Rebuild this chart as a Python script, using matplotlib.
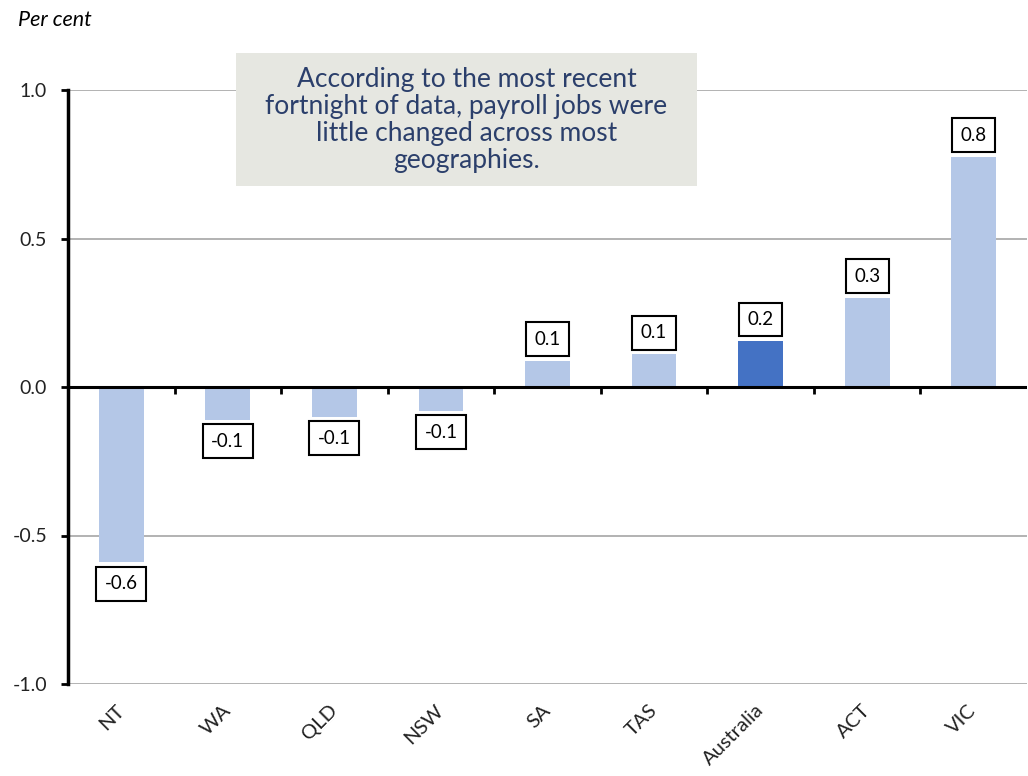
import matplotlib
matplotlib.use("Agg")
import matplotlib.pyplot as plt
from matplotlib.patches import Rectangle

regions = ["NT", "WA", "QLD", "NSW", "SA", "TAS", "Australia", "ACT", "VIC"]
change = [-0.59, -0.11, -0.10, -0.08, 0.088, 0.11, 0.155, 0.30, 0.775]
highlight = "Australia"
y_ticks = [-1.0, -0.5, 0.0, 0.5, 1.0]
note = ("According to the most recent\n"
        "fortnight of data, payroll jobs were\n"
        "little changed across most\n"
        "geographies.")

LIGHT = "#B4C7E7"
DARK = "#4472C4"
GRID = "#A6A6A6"

plt.rcParams["font.family"] = ["Lato", "DejaVu Sans"]

W, H = 1028, 776
fig = plt.figure(figsize=(W / 100, H / 100), dpi=100)
ax = fig.add_axes([68 / W, 1 - 684 / H, (1027 - 68) / W, (684 - 90) / H])

x = list(range(len(regions)))
colors = [DARK if r == highlight else LIGHT for r in regions]
ax.bar(x, change, width=0.42, color=colors, zorder=3)

# value boxes above positive bars, below negative ones
for xi, v in zip(x, change):
    up = v >= 0
    ax.annotate(f"{v:.1f}", (xi, v), xytext=(0, 13 if up else -13),
                textcoords="offset pixels", ha="center",
                va="bottom" if up else "top", fontsize=13.5, zorder=5,
                bbox=dict(boxstyle="square,pad=0.45", fc="white",
                          ec="black", lw=1.5))

ax.set_xlim(-0.5, len(regions) - 0.5)
ax.set_ylim(-1.0, 1.0)
ax.set_yticks(y_ticks)
ax.set_yticklabels([f"{t:.1f}" for t in y_ticks], fontsize=14, color="#222222")
ax.yaxis.grid(True, color=GRID, lw=1.2, zorder=0)
ax.tick_params(axis="y", direction="out", length=5, width=2, pad=10)

ax.set_xticks(x)
ax.set_xticklabels(regions, rotation=45, ha="right", va="center",
                   rotation_mode="anchor", fontsize=14.5, color="#222222")
ax.tick_params(axis="x", length=0, pad=17)

for side in ["top", "right", "bottom"]:
    ax.spines[side].set_visible(False)
ax.spines["left"].set_linewidth(2.5)
ax.set_axisbelow(True)

# zero line with category dividers
ax.axhline(0, color="black", lw=2.2, zorder=4)
ax.vlines([i + 0.5 for i in x[:-1]], -0.025, 0, color="black", lw=2, zorder=4)

fig.text(18 / W, 1 - 20 / H, "Per cent", fontsize=15.5, style="italic",
         va="center", ha="left")

box = Rectangle((236 / W, 1 - 186 / H), (697 - 236) / W, (186 - 53) / H,
                transform=fig.transFigure, fc="#E6E7E1", ec="none", zorder=6)
fig.patches.append(box)
fig.text((236 + 697) / 2 / W, 1 - 120 / H, note, ha="center", va="center",
         fontsize=19, color="#2B3F6B", linespacing=1.1, zorder=7)

fig.savefig("out.png", dpi=100)
